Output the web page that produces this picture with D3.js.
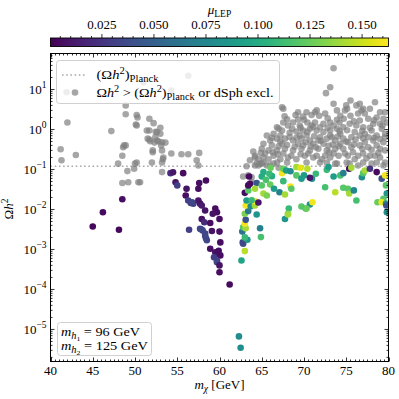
<!DOCTYPE html>
<html><head><meta charset="utf-8">
<script src="https://cdn.jsdelivr.net/npm/d3@7"></script>
<style>
body{margin:0;background:#fff;}
text{font-family:"Liberation Serif","DejaVu Serif",serif;fill:#000;}
</style>
</head><body>
<svg id="chart" width="399" height="399"></svg>
<script>
// ---------------- data ----------------
const xTicks = [40,45,50,55,60,65,70,75,80];
const yExponents = [-5,-4,-3,-2,-1,0,1];
const cbTicks = [0.025,0.050,0.075,0.100,0.125,0.150];
const planckOmega = 0.12;
const muRange = [0.0003, 0.1627];
const xRange = [40, 80];
const yRange = [1.58e-6, 79.4];

// excluded points: [m_chi, Omega h^2]
const grayPts = [
 [41.2,0.32],[41.3,0.17],[42.0,1.5],[43.0,0.23],[41.9,8.5],
 [47.2,0.91],[48.6,0.36],[48.5,0.22],[48.9,0.40],[48.9,2.4],[48.9,4.0],[48.0,0.14],[48.5,0.046],[49.2,0.048],
 [49.1,0.091],[49.9,0.104],[50.0,0.14],[50.2,0.15],[50.1,1.33],[50.2,2.3],[50.3,2.0],[50.2,1.26],[50.4,0.048],
 [51.0,15],[51.7,1.85],[51.4,0.94],[51.7,0.94],[52.2,1.44],[52.45,0.87],[51.5,0.59],[51.8,0.51],[52.6,0.53],
 [53.0,1.1],[53.0,0.78],[53.2,0.48],[52.1,0.30],[53.2,0.30],[53.3,0.18],[53.35,0.20],[54.3,0.25],[55.5,0.24],
 [56.3,0.24],[56.3,22],[54.3,9.4],[52.6,0.86],[52.4,0.64],[51.7,0.56],[52.3,0.47],[52.8,0.5],[53.1,0.4],
 [53.6,0.47],[48.7,0.40],[52.1,0.27],[57.6,0.26],[57.3,0.17],[57.5,0.126],[53.2,0.15],[53.2,0.086],[50.6,0.048],[52.0,0.15],
 [73.5,34],[73.1,11.4],[72.6,8.1],[67.55,3.3],[67.7,2.15],[73.5,4.4],[73.9,3.0],[75.5,5.3],[75.1,3.3],[76.2,4.0],
 [78.4,4.8],[71.5,3.0],[71.8,2.2],[70.9,2.3],[69.9,2.1],[69.3,1.78],[68.7,1.5],[68.1,1.26],[70.4,1.5],[71.3,1.5],
 [72.3,1.39],[73.1,1.5],[73.9,1.75],[74.7,1.85],[75.5,2.2],[76.4,2.5],[77.2,2.5],[77.6,1.85],[78.6,2.0],[79.4,1.85],
 [78.2,1.39],[77.0,1.14],[76.2,1.26],[75.4,1.39],[74.65,1.14],[73.9,1.04],[73.1,0.94],[72.3,0.86],[71.5,0.94],
 [70.7,1.04],[69.9,0.94],[69.1,0.89],[68.3,0.83],[67.4,0.94],[66.4,0.78],[66.0,0.53],[66.8,0.59],[67.75,0.59],
 [68.7,0.53],[69.7,0.59],[70.7,0.53],[71.7,0.53],[72.7,0.59],[73.7,0.53],[74.65,0.59],[75.6,0.64],[76.6,0.71],
 [77.6,0.64],[78.6,0.71],[79.6,0.78],[79.4,0.48],[78.6,0.40],[77.6,0.36],[76.6,0.40],[75.6,0.36],[74.65,0.33],
 [73.7,0.33],[72.7,0.30],[71.7,0.33],[70.7,0.30],[69.7,0.33],[68.7,0.30],[67.75,0.33],[66.8,0.30],[65.8,0.30],
 [65.0,0.33],[64.2,0.22],[64.6,0.18],[65.2,0.20],[65.8,0.18],[66.4,0.22],[67.2,0.18],[68.1,0.20],[69.1,0.18],
 [70.1,0.22],[71.1,0.20],[72.1,0.18],[73.1,0.20],[74.1,0.22],[75.2,0.22],[76.4,0.22],[77.8,0.22],[79.0,0.20],
 [79.6,0.15],[65.0,0.14],[66.0,0.126],[73.9,0.14],[78.6,0.15],[67.4,3.6],[79.6,2.7],[79.8,1.5],[79.6,0.64],
 [79.6,0.30],[76.6,4.4],[75.0,4.0],[77.0,3.3],
 [62.8,0.067],[63.4,0.071],[63.8,0.064],[64.2,0.126],[64.8,0.14],[65.2,0.15],[65.6,0.126],[66.4,0.14],[67.0,0.11],
 [71.9,0.15],[73.7,0.14],[75.4,0.14],[76.4,0.126],[78.0,0.14],[63.8,0.048],[64.6,0.126],[64.2,0.2],
 [70.3,2.7],[72.5,2.5],[74.3,2.2],[76.8,3.0],[77.8,3.3],[79.0,2.7],[66.8,1.14],[67.55,1.5],[69.5,1.26],[70.9,1.26],
 [71.9,1.14],[73.5,1.26],[76.6,1.68],[79.0,1.39],[65.6,0.71],[67.2,0.71],[69.5,0.71],[70.3,0.71],[71.9,0.64],
 [73.1,0.71],[74.3,0.78],[76.0,0.86],[77.2,0.78],[78.0,0.94],[79.2,1.04],[65.2,0.44],[66.2,0.40],[67.4,0.44],
 [69.3,0.44],[71.1,0.44],[72.3,0.44],[74.3,0.44],[75.2,0.48],[77.2,0.48],[78.2,0.53],[65.4,0.25],[67.55,0.25],
 [68.5,0.22],[70.5,0.25],[71.5,0.22],[72.5,0.22],[73.5,0.25],[74.85,0.25],[75.8,0.27],[77.0,0.25],[78.4,0.22],
 [64.4,0.14],[66.8,0.15],[68.0,0.15],[70.3,0.15],[72.7,0.15],[75.05,0.15],[77.0,0.15],[79.4,0.126],[74.85,3.0],
 [69.3,2.7],[71.3,2.7],
 [64.0,0.28],[64.9,0.26],[66.3,0.27],[67.0,0.38],[68.0,0.41],[68.9,0.37],[69.9,0.40],[70.8,0.38],[71.4,0.36],
 [72.9,0.39],[73.4,0.42],[74.1,0.38],[75.9,0.42],[76.9,0.33],[78.0,0.31],[79.0,0.33],[66.2,0.62],[67.2,0.50],
 [68.3,0.65],[69.1,0.62],[70.2,0.48],[71.2,0.68],[72.0,0.52],[73.3,0.64],[74.0,0.67],[75.0,0.50],[76.1,0.56],
 [77.0,0.60],[78.3,0.62],[79.0,0.58],[67.0,1.05],[68.6,1.04],[69.6,1.1],[70.4,0.87],[71.1,1.15],[72.8,1.1],
 [74.2,0.92],[75.1,0.96],[76.9,0.93],[77.8,1.1],[79.3,1.25],[68.0,1.8],[69.0,2.3],[70.0,1.75],[72.8,1.9],
 [74.2,1.5],[75.9,1.6],[78.3,1.7],[63.6,0.17],[63.2,0.12],[66.9,0.24],[69.6,0.24],[73.0,0.27],[76.0,0.18],
 [77.4,0.19],[78.8,0.26]
];

// allowed points: [m_chi, Omega h^2, mu_LEP]
const colorPts = [
 [45.0,0.00376,0.004],[46.2,0.0085,0.005],[48.1,0.0031,0.004],[48.5,0.018,0.006],[56.4,0.0031,0.03],
 [54.2,0.081,0.022],[54.5,0.085,0.01],[55.7,0.081,0.006],[54.8,0.048,0.008],[55.0,0.040,0.03],[57.6,0.046,0.006],
 [58.4,0.053,0.005],[57.5,0.033,0.006],[56.1,0.033,0.008],[56.0,0.0224,0.007],[56.3,0.0168,0.03],[56.9,0.0139,0.032],
 [57.5,0.0168,0.01],[57.7,0.014,0.008],[57.9,0.0126,0.012],[58.3,0.0094,0.008],[59.5,0.0105,0.006],[59.7,0.0085,0.006],
 [59.2,0.0078,0.008],[60.0,0.0058,0.006],[57.9,0.0058,0.008],[58.2,0.0048,0.02],[58.9,0.0046,0.006],[57.7,0.0033,0.035],
 [58.0,0.0030,0.035],[58.3,0.0025,0.035],[59.1,0.0029,0.008],[60.0,0.0028,0.007],[58.4,0.0019,0.035],[60.1,0.0015,0.006],
 [58.9,0.00104,0.007],[59.5,0.00085,0.008],[59.9,0.00093,0.006],[59.8,0.00078,0.006],[60.1,0.00071,0.006],
 [59.35,0.00064,0.03],[59.7,0.00053,0.03],[59.7,0.00048,0.035],[60.0,0.0004,0.008],[60.0,0.00027,0.006],
 [61.2,0.000133,0.005],[58.5,0.0017,0.035],[58.3,0.0022,0.035],[57.8,0.0032,0.035],[56.6,0.0145,0.03],[56.75,0.0152,0.035],
 [62.3,6.7e-6,0.08],[62.5,3.5e-6,0.08],
 [62.6,0.00053,0.095],[63.0,0.00091,0.145],[62.8,0.00139,0.04],[62.75,0.0015,0.035],[63.3,0.00175,0.085],
 [64.9,0.00204,0.115],[64.8,0.0034,0.07],[62.7,0.0028,0.06],[62.8,0.0036,0.12],[63.1,0.0034,0.14],[63.0,0.0044,0.16],
 [63.1,0.0055,0.04],[63.0,0.0078,0.13],[63.4,0.0091,0.065],[63.1,0.0126,0.16],[63.7,0.012,0.08],[64.2,0.0126,0.14],
 [64.2,0.016,0.16],[64.4,0.0075,0.085],[63.2,0.0168,0.09],[63.8,0.017,0.11],[64.6,0.015,0.01],[63.0,0.026,0.005],
 [63.4,0.030,0.12],[63.6,0.044,0.005],[64.4,0.046,0.045],[64.2,0.033,0.14],[65.0,0.040,0.12],[65.2,0.025,0.14],
 [65.6,0.0224,0.13],[65.0,0.067,0.1],[65.5,0.055,0.115],[66.2,0.068,0.1],[66.0,0.042,0.125],[66.45,0.033,0.09],
 [67.1,0.027,0.07],[67.75,0.0237,0.14],[67.55,0.051,0.11],[68.4,0.0376,0.16],[68.5,0.033,0.12],[68.2,0.0105,0.11],
 [68.1,0.0078,0.13],[67.75,0.0058,0.085],[67.4,0.081,0.16],[67.55,0.104,0.125],[67.9,0.094,0.09],[68.4,0.09,0.08],
 [69.1,0.115,0.14],[69.6,0.11,0.155],[70.0,0.071,0.09],[69.1,0.071,0.12],[70.4,0.104,0.145],[69.7,0.059,0.09],
 [70.95,0.059,0.085],[71.4,0.078,0.11],[70.7,0.062,0.01],[72.5,0.036,0.115],[72.7,0.098,0.11],[72.9,0.115,0.09],
 [73.5,0.067,0.09],[73.7,0.027,0.145],[74.3,0.071,0.115],[74.65,0.081,0.07],[74.65,0.035,0.12],[75.2,0.033,0.12],
 [75.35,0.025,0.14],[75.9,0.030,0.075],[76.2,0.0168,0.115],[75.35,0.104,0.005],[75.6,0.11,0.14],[76.85,0.064,0.08],
 [77.0,0.081,0.12],[77.2,0.094,0.14],[77.8,0.104,0.025],[78.6,0.086,0.005],[79.2,0.059,0.04],[79.6,0.071,0.16],
 [79.7,0.040,0.12],[79.8,0.025,0.085],[79.4,0.0185,0.12],[78.7,0.0152,0.125],[79.2,0.0152,0.16],[79.7,0.014,0.085],
 [79.8,0.0085,0.09],[69.7,0.0119,0.12],[70.2,0.0105,0.115],[70.7,0.0133,0.08],[71.0,0.0152,0.16],[65.2,0.086,0.1],
 [65.9,0.078,0.11],[66.05,0.11,0.125],[63.5,0.067,0.005],[68.1,0.0075,0.14],[70.3,0.0105,0.125],[63.0,0.0020,0.11],
 [79.75,0.0126,0.04],[79.9,0.0085,0.08],[63.4,0.040,0.005]
];

// ---------------- drawing ----------------
const svg = d3.select("#chart");
const L = 50.5, R = 388.5, T = 53.5, B = 361.5;
const x = d3.scaleLinear().domain(xRange).range([L, R]);
const y = d3.scaleLog().domain(yRange).range([B, T]);
const color = d3.scaleSequential(d3.interpolateViridis).domain(muRange);
const rPt = 3.3;

svg.append("defs").append("clipPath").attr("id","plotclip")
  .append("rect").attr("x",L).attr("y",T).attr("width",R-L).attr("height",B-T);

const plot = svg.append("g").attr("clip-path","url(#plotclip)");

// Planck line
plot.append("line")
  .attr("x1",L).attr("x2",R).attr("y1",y(planckOmega)).attr("y2",y(planckOmega))
  .attr("stroke","#a8a8a8").attr("stroke-width",1.6).attr("stroke-dasharray","1.6,2.6");

// excluded
plot.append("g").selectAll("circle").data(grayPts).join("circle")
  .attr("cx",d=>x(d[0])).attr("cy",d=>y(d[1])).attr("r",rPt)
  .attr("fill","#808080").attr("fill-opacity",0.7);

// allowed
plot.append("g").selectAll("circle").data(colorPts).join("circle")
  .attr("cx",d=>x(d[0])).attr("cy",d=>y(d[1])).attr("r",rPt)
  .attr("fill",d=>color(d[2]));

// axes frame & ticks
const axg = svg.append("g");
axg.append("rect").attr("x",L).attr("y",T).attr("width",R-L).attr("height",B-T)
  .attr("fill","none").attr("stroke","#000").attr("stroke-width",1);

const xMinor = d3.range(40,80.01,0.5).filter(v=>Math.abs(v%5)>1e-6);
function vt(xp, len){
  axg.append("line").attr("x1",xp).attr("x2",xp).attr("y1",B).attr("y2",B-len).attr("stroke","#000").attr("stroke-width",0.8);
  axg.append("line").attr("x1",xp).attr("x2",xp).attr("y1",T).attr("y2",T+len).attr("stroke","#000").attr("stroke-width",0.8);
}
xTicks.forEach(v=>vt(Math.round(x(v))+0.5,4));
xMinor.forEach(v=>vt(Math.round(x(v))+0.5,2));

function ht(yp,len){
  axg.append("line").attr("x1",L).attr("x2",L+len).attr("y1",yp).attr("y2",yp).attr("stroke","#000").attr("stroke-width",0.8);
  axg.append("line").attr("x1",R).attr("x2",R-len).attr("y1",yp).attr("y2",yp).attr("stroke","#000").attr("stroke-width",0.8);
}
yExponents.forEach(k=>ht(y(Math.pow(10,k)),4));
for(let k=-6;k<=1;k++){
  for(let j=2;j<=9;j++){
    const v=j*Math.pow(10,k);
    if(v>yRange[0] && v<yRange[1]) ht(y(v),2);
  }
}

// x tick labels
axg.selectAll("text.xt").data(xTicks).join("text").attr("class","xt")
  .attr("x",d=>x(d)).attr("y",374.5).attr("text-anchor","middle")
  .attr("font-size",13).text(d=>d);

// y tick labels
yExponents.forEach(k=>{
  const t = axg.append("text").attr("x",46.5).attr("y",y(Math.pow(10,k))+4.5)
    .attr("text-anchor","end").attr("font-size",13);
  t.append("tspan").text("10");
  t.append("tspan").attr("dy",-5.5).attr("font-size",9.5).text(k<0?"\u2212"+(-k):String(k));
});

// axis labels
const xl = svg.append("text").attr("x",219.5).attr("y",389).attr("text-anchor","middle").attr("font-size",13);
xl.append("tspan").attr("font-style","italic").text("m");
xl.append("tspan").attr("dy",3).attr("font-size",9.5).attr("font-style","italic").text("\u03c7");
xl.append("tspan").attr("dy",-3).text(" [GeV]");

const yl = svg.append("text").attr("transform","translate(13,209) rotate(-90)").attr("text-anchor","middle").attr("font-size",13);
yl.append("tspan").text("\u03a9");
yl.append("tspan").attr("font-style","italic").text("h");
yl.append("tspan").attr("dy",-5).attr("font-size",9.5).text("2");

// legend
const lg = svg.append("g");
lg.append("rect").attr("x",56.5).attr("y",60.5).attr("width",223).attr("height",43).attr("rx",3)
  .attr("fill","#fff").attr("fill-opacity",0.8).attr("stroke","#d0d0d0").attr("stroke-width",1);
lg.append("line").attr("x1",62).attr("x2",87).attr("y1",75).attr("y2",75)
  .attr("stroke","#a8a8a8").attr("stroke-width",1.6).attr("stroke-dasharray","1.6,2.6");
lg.append("circle").attr("cx",75).attr("cy",92.5).attr("r",rPt).attr("fill","#808080").attr("fill-opacity",0.7);
const l1 = lg.append("text").attr("x",96.5).attr("y",79).attr("font-size",13)
  .attr("textLength",62).attr("lengthAdjust","spacingAndGlyphs");
l1.append("tspan").text("(\u03a9");
l1.append("tspan").attr("font-style","italic").text("h");
l1.append("tspan").attr("dy",-5).attr("font-size",9.5).text("2");
l1.append("tspan").attr("dy",5).text(")");
l1.append("tspan").attr("dy",3).attr("font-size",9.5).text("Planck");
const l2 = lg.append("text").attr("x",96.5).attr("y",97).attr("font-size",13)
  .attr("textLength",177).attr("lengthAdjust","spacingAndGlyphs");
l2.append("tspan").text("\u03a9");
l2.append("tspan").attr("font-style","italic").text("h");
l2.append("tspan").attr("dy",-5).attr("font-size",9.5).text("2");
l2.append("tspan").attr("dy",5).text(" > (\u03a9");
l2.append("tspan").attr("font-style","italic").text("h");
l2.append("tspan").attr("dy",-5).attr("font-size",9.5).text("2");
l2.append("tspan").attr("dy",5).text(")");
l2.append("tspan").attr("dy",3).attr("font-size",9.5).text("Planck");
l2.append("tspan").attr("dy",-3).text(" or dSph excl.");

// mass box
const mb = svg.append("g");
mb.append("rect").attr("x",57.5).attr("y",322.5).attr("width",94).attr("height",33).attr("rx",3)
  .attr("fill","#fff").attr("fill-opacity",0.8).attr("stroke","#d0d0d0").attr("stroke-width",1);
[["1","96",79],["2","125",87]].forEach((p,i)=>{
  const t = mb.append("text").attr("x",61).attr("y",336+i*14).attr("font-size",13)
    .attr("textLength",p[2]).attr("lengthAdjust","spacingAndGlyphs");
  t.append("tspan").attr("font-style","italic").text("m");
  t.append("tspan").attr("dy",3).attr("font-size",9.5).attr("font-style","italic").text("h");
  t.append("tspan").attr("dy",2).attr("font-size",7).text(p[0]);
  t.append("tspan").attr("dy",-5).text(" = "+p[1]+" GeV");
});

// colorbar
const cbY0 = 38, cbY1 = 46.5;
const cx = d3.scaleLinear().domain(muRange).range([L, R]);
const grad = svg.select("defs").append("linearGradient").attr("id","vir").attr("x1","0%").attr("x2","100%");
d3.range(0,1.0001,0.02).forEach(t=>grad.append("stop").attr("offset",(t*100)+"%").attr("stop-color",d3.interpolateViridis(t)));
svg.append("rect").attr("x",L).attr("y",cbY0).attr("width",R-L).attr("height",cbY1-cbY0)
  .attr("fill","url(#vir)").attr("stroke","#000").attr("stroke-width",0.9);
const cbMinor = d3.range(0.005,0.1627,0.005).filter(v=>Math.abs((v/0.025)-Math.round(v/0.025))>1e-6);
cbMinor.forEach(v=>svg.append("line").attr("x1",cx(v)).attr("x2",cx(v)).attr("y1",cbY0).attr("y2",cbY0-2).attr("stroke","#000").attr("stroke-width",0.8));
cbTicks.forEach(v=>svg.append("line").attr("x1",cx(v)).attr("x2",cx(v)).attr("y1",cbY0).attr("y2",cbY0-4).attr("stroke","#000").attr("stroke-width",0.8));
svg.selectAll("text.cbt").data(cbTicks).join("text").attr("class","cbt")
  .attr("x",d=>cx(d)).attr("y",29).attr("text-anchor","middle").attr("font-size",13)
  .text(d3.format(".3f"));
const cl = svg.append("text").attr("x",219.5).attr("y",14).attr("text-anchor","middle").attr("font-size",13);
cl.append("tspan").attr("font-style","italic").text("\u03bc");
cl.append("tspan").attr("dy",3).attr("font-size",9.5).text("LEP");
</script>
</body></html>
